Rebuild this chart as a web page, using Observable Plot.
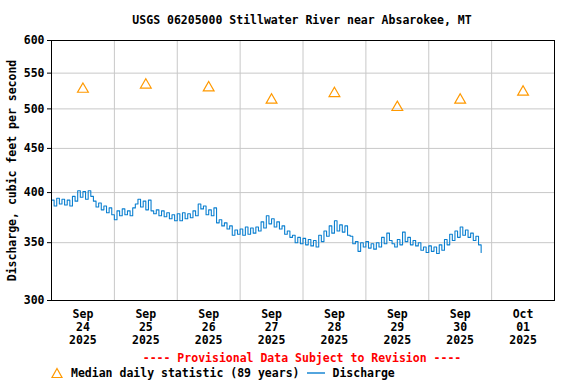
<!DOCTYPE html>
<html>
<head>
<meta charset="utf-8">
<script src="https://cdn.jsdelivr.net/npm/d3@7"></script>
<script src="https://cdn.jsdelivr.net/npm/@observablehq/plot@0.6"></script>
<style>
  html, body { margin: 0; padding: 0; background: #fff; }
  #wrap { width: 576px; height: 384px; font-family: "DejaVu Sans Mono", monospace; font-weight: bold; font-size: 11.5px; color: #000; }
  #title { box-sizing: border-box; height: 32px; padding-top: 14px; line-height: 13px; text-align: center; padding-left: 28px; }
  #chart svg { display: block; }
  #prov { box-sizing: border-box; height: 17px; padding-top: 3px; line-height: 14px; color: #f00; text-align: center; padding-left: 28px; }
  #legend { height: 16px; line-height: 16px; display: flex; align-items: center; padding-left: 50px; white-space: pre; }
</style>
</head>
<body>
<div id="wrap">
  <div id="title">USGS 06205000 Stillwater River near Absarokee, MT</div>
  <div id="chart"></div>
  <div id="prov">---- Provisional Data Subject to Revision ----</div>
  <div id="legend">
    <svg width="14" height="14" style="margin-right:7px"><path d="M7,2.5 L12,11.5 L2,11.5 Z" fill="none" stroke="#f90" stroke-width="1.2"/></svg><span>Median daily statistic (89 years)</span><svg width="22" height="14" style="margin:0 4px 0 7px"><line x1="1" x2="19" y1="7" y2="7" stroke="#0a7fd0" stroke-width="1.4"/></svg><span>Discharge</span>
  </div>
</div>
<script>
// ---- data ----
const dischargeStart = "2025-09-24T00:00:00Z"; // hourly readings
const dischargeValues = [
  392,386,394,388,393,387,392,386,396,391,402,395,401,393,402,396,391,385,389,382,386,379,384,377,
  372,381,376,383,377,381,376,384,388,393,385,391,382,392,381,378,382,376,381,375,379,373,377,371,
  378,371,379,373,378,374,381,376,388,383,386,377,382,376,384,369,372,366,369,363,366,357,362,358,
  363,357,365,358,364,359,365,361,370,364,376,368,373,365,370,363,366,358,361,355,357,350,355,349,
  354,348,353,347,352,346,357,351,361,356,366,359,371,361,367,360,366,357,356,349,351,342,350,346,
  351,345,349,344,350,346,355,349,359,352,349,346,353,348,360,351,355,348,352,347,350,343,346,341,
  347,342,346,340,348,343,353,348,358,352,361,355,365,357,362,355,359,352,356,348,341
];
const medianDays = ["2025-09-24","2025-09-25","2025-09-26","2025-09-27","2025-09-28","2025-09-29","2025-09-30","2025-10-01"];
const medianValues = [527, 533, 529, 512, 521, 502, 512, 523];
const yTicks = [300, 350, 400, 450, 500, 550, 600];
const xTickDays = medianDays;
const monthNames = ["Jan","Feb","Mar","Apr","May","Jun","Jul","Aug","Sep","Oct","Nov","Dec"];

// ---- build tables ----
const t0 = new Date(dischargeStart).getTime();
const discharge = dischargeValues.map((v, i) => ({date: new Date(t0 + i * 3600e3), value: v}));
const medians = medianDays.map((d, i) => ({date: new Date(d + "T12:00:00Z"), value: medianValues[i]}));
const noonTicks = xTickDays.map(d => new Date(d + "T12:00:00Z"));
const midnights = xTickDays.slice(1).map(d => new Date(d + "T00:00:00Z"));
const xDomain = [new Date("2025-09-24T00:00:00Z"), new Date("2025-10-02T00:00:00Z")];

const chart = Plot.plot({
  width: 576,
  height: 316,
  marginTop: 8,
  marginBottom: 48,
  marginLeft: 51,
  marginRight: 22,
  style: {fontFamily: "'DejaVu Sans Mono', monospace", fontSize: "11.5px", fontWeight: "bold", color: "#000", background: "#fff", overflow: "visible"},
  x: {type: "utc", domain: xDomain},
  y: {type: "log", domain: [300, 600]},
  marks: [
    Plot.gridY(yTicks.slice(1, -1), {stroke: "#c8c8c8", strokeOpacity: 1}),
    Plot.gridX(midnights, {stroke: "#c8c8c8", strokeOpacity: 1}),
    Plot.line(discharge, {x: "date", y: "value", stroke: "#0a7fd0", strokeWidth: 1.1, curve: "step-after"}),
    Plot.dot(medians, {x: "date", y: "value", symbol: "triangle", r: 4, stroke: "#f90", strokeWidth: 1.2, fill: "none"}),
    Plot.frame({stroke: "#000"}),
    Plot.axisY({ticks: yTicks, tickFormat: d => String(d), tickSize: 4, tickPadding: 3,
      label: "Discharge, cubic feet per second", labelAnchor: "center", labelArrow: "none", labelOffset: 44}),
    Plot.axisX({ticks: noonTicks, tickSize: 0, tickPadding: 8, lineHeight: 1.13, label: null,
      tickFormat: d => `${monthNames[d.getUTCMonth()]}\n${String(d.getUTCDate()).padStart(2, "0")}\n${d.getUTCFullYear()}`})
  ]
});
document.getElementById("chart").appendChild(chart);
</script>
</body>
</html>
